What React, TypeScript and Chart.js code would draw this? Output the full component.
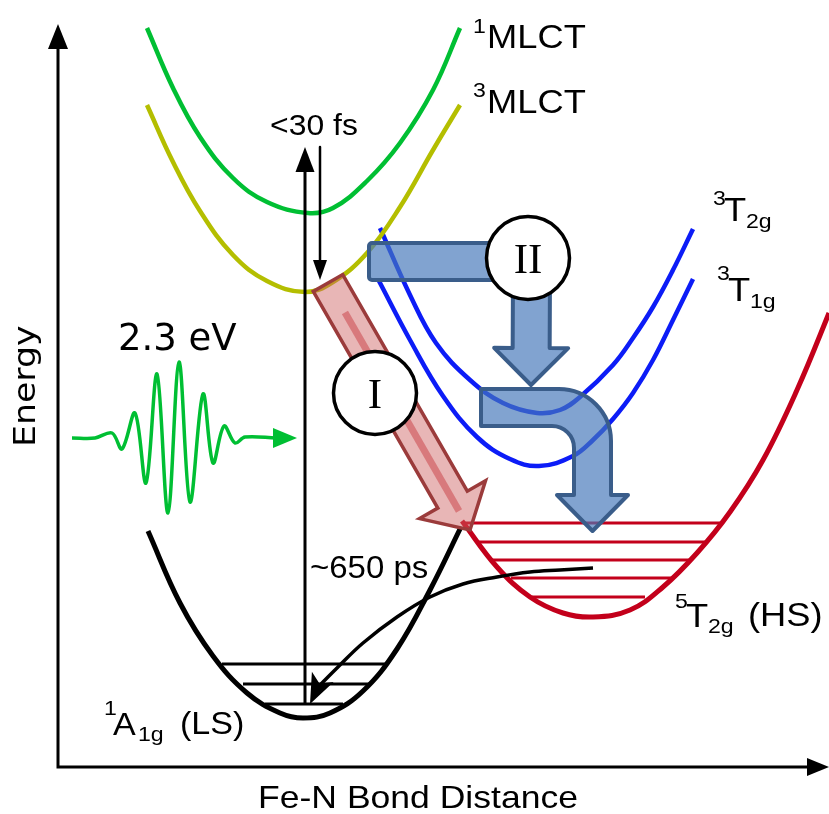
import { useEffect, useRef } from "react";
import { Chart, registerables } from "chart.js";

Chart.register(...registerables);

type Pt = { x: number; y: number };

// x: Fe–N bond distance, y: energy (arbitrary units)
const curve1MLCT: Pt[] = [
  { x: 89, y: 739 }, { x: 115, y: 679 }, { x: 142, y: 630 }, { x: 175, y: 589 },
  { x: 209, y: 565 }, { x: 250, y: 554 }, { x: 275, y: 559 }, { x: 309, y: 586 },
  { x: 342, y: 624 }, { x: 375, y: 677 }, { x: 402, y: 739 },
];
const curve3MLCT: Pt[] = [
  { x: 89, y: 662 }, { x: 115, y: 605 }, { x: 142, y: 556 }, { x: 175, y: 512 },
  { x: 209, y: 486 }, { x: 247, y: 475 }, { x: 275, y: 485 }, { x: 309, y: 514 },
  { x: 342, y: 560 }, { x: 375, y: 617 }, { x: 402, y: 662 },
];
const curve3T2g: Pt[] = [
  { x: 322, y: 539 }, { x: 352, y: 472 }, { x: 378, y: 424 }, { x: 412, y: 387 },
  { x: 445, y: 364 }, { x: 479, y: 354 }, { x: 502, y: 357 }, { x: 522, y: 370 },
  { x: 555, y: 402 }, { x: 575, y: 429 }, { x: 595, y: 460 }, { x: 615, y: 497 },
  { x: 635, y: 538 },
];
const curve3T1g: Pt[] = [
  { x: 321, y: 486 }, { x: 352, y: 427 }, { x: 385, y: 371 }, { x: 419, y: 330 },
  { x: 452, y: 308 }, { x: 481, y: 301 }, { x: 515, y: 311 },
  { x: 535, y: 327 }, { x: 555, y: 348 }, { x: 575, y: 374 }, { x: 595, y: 407 },
  { x: 615, y: 447 }, { x: 635, y: 488 },
];
const curve5T2g: Pt[] = [
  { x: 404, y: 246 }, { x: 439, y: 200 }, { x: 472, y: 170 }, { x: 505, y: 154 },
  { x: 535, y: 150 }, { x: 572, y: 157 }, { x: 605, y: 180 }, { x: 639, y: 214 },
  { x: 672, y: 255 }, { x: 705, y: 307 }, { x: 739, y: 377 }, { x: 771, y: 454 },
  { x: 787, y: 495 },
];
const curve1A1g: Pt[] = [
  { x: 90, y: 236 }, { x: 122, y: 164 }, { x: 155, y: 111 }, { x: 189, y: 74 },
  { x: 222, y: 54 }, { x: 245, y: 49 }, { x: 272, y: 54 }, { x: 305, y: 76 },
  { x: 339, y: 118 }, { x: 372, y: 177 }, { x: 403, y: 240 },
];
const levels1A1g = [
  { y: 103, x0: 164, x1: 327 },
  { y: 83, x0: 185, x1: 312 },
  { y: 63, x0: 207, x1: 285 },
];
const levels5T2g = [
  { y: 244, x0: 405, x1: 662 },
  { y: 225, x0: 418, x1: 650 },
  { y: 207, x0: 434, x1: 633 },
  { y: 189, x0: 453, x1: 614 },
  { y: 170, x0: 474, x1: 587 },
];
const pulse: Pt[] = [
  { x: 14, y: 329 }, { x: 37, y: 329 }, { x: 54, y: 334 }, { x: 64, y: 318 },
  { x: 77, y: 354 }, { x: 88, y: 284 }, { x: 99, y: 393 }, { x: 110, y: 254 },
  { x: 121, y: 405 }, { x: 132, y: 265 }, { x: 145, y: 373 }, { x: 155, y: 304 },
  { x: 166, y: 341 }, { x: 177, y: 324 }, { x: 187, y: 330 }, { x: 218, y: 329 },
];
const excitation: Pt[] = [{ x: 247, y: 63 }, { x: 247, y: 600 }];
const fastRelax: Pt[] = [{ x: 262, y: 620 }, { x: 262, y: 505 }];
const hsDecay: Pt[] = [
  { x: 262, y: 82 }, { x: 279, y: 99 }, { x: 305, y: 124 }, { x: 339, y: 150 },
  { x: 372, y: 170 }, { x: 405, y: 183 }, { x: 439, y: 190 }, { x: 472, y: 195 },
  { x: 502, y: 197 }, { x: 535, y: 199 },
];
const arrowTips = [
  { tip: { x: 0, y: 743 }, from: { x: 0, y: 0 }, kind: "axisY" },
  { tip: { x: 771, y: 0 }, from: { x: 0, y: 0 }, kind: "axisX" },
  { tip: { x: 247, y: 620 }, from: { x: 247, y: 63 }, kind: "excite" },
  { tip: { x: 262, y: 487 }, from: { x: 262, y: 620 }, kind: "relax" },
  { tip: { x: 252, y: 63 }, from: { x: 264, y: 88.5 }, kind: "decay" },
  { tip: { x: 239, y: 329 }, from: { x: 218, y: 329 }, kind: "pulse" },
];
const pathI = { from: { x: 270, y: 484 }, tip: { x: 412, y: 237 } };
const pathIIBar = { from: { x: 311, y: 505.5 }, to: { x: 447, y: 505.5 } };
const pathIIDown = { from: { x: 473.5, y: 495 }, tip: { x: 473, y: 382 } };
const pathIIBent = { from: { x: 423, y: 359.5 }, corner: { x: 534.5, y: 359.5 }, tip: { x: 534.5, y: 236 } };
const circleLabels = [
  { text: "I", x: 317, y: 374 },
  { text: "II", x: 470, y: 509 },
];
const stateLabels = [
  { text: "1", x: 415, y: 734, role: "sup" }, { text: "MLCT", x: 429, y: 719, role: "main" },
  { text: "3", x: 415, y: 670, role: "sup" }, { text: "MLCT", x: 429, y: 654, role: "main" },
  { text: "3", x: 655, y: 562, role: "sup" }, { text: "T", x: 666, y: 546, role: "main" }, { text: "2g", x: 688, y: 539, role: "sub" },
  { text: "3", x: 659, y: 487, role: "sup" }, { text: "T", x: 670, y: 466, role: "main" }, { text: "1g", x: 692, y: 459, role: "sub" },
  { text: "5", x: 617, y: 159, role: "sup" }, { text: "T", x: 628, y: 140, role: "main" }, { text: "2g", x: 650, y: 134, role: "sub" }, { text: "(HS)", x: 690, y: 141, role: "main" },
  { text: "1", x: 46, y: 52, role: "sup" }, { text: "A", x: 55, y: 32, role: "mainS" }, { text: "1g", x: 80, y: 26, role: "sub" }, { text: "(LS)", x: 122, y: 33, role: "mainS" },
  { text: "<30 fs", x: 256, y: 632, role: "fast" },
  { text: "~650 ps", x: 252, y: 189, role: "slow" },
  { text: "2.3 eV", x: 60, y: 417, role: "ev" },
  { text: "Fe-N Bond Distance", x: 360, y: -41, role: "xTitle" },
  { text: "Energy", x: -23, y: 320, role: "yTitle" },
];

// ---- styles ----
const SANS = '"Liberation Sans", Arial, sans-serif';
const DEJAVU = '"DejaVu Sans", sans-serif';
const SERIF = '"Liberation Serif", "Times New Roman", serif';
const GREEN = "#00bf33";
const OLIVE = "#b4be00";
const BLUE = "#0c1cf7";
const RED = "#c3001b";
const textStyles: Record<string, { font: string; sx: number; align: CanvasTextAlign; rot: number }> = {
  main: { font: `33px ${SANS}`, sx: 1.1, align: "left", rot: 0 },
  mainS: { font: `31px ${SANS}`, sx: 1.1, align: "left", rot: 0 },
  sup: { font: `21px ${SANS}`, sx: 1.1, align: "left", rot: 0 },
  sub: { font: `21px ${SANS}`, sx: 1.1, align: "left", rot: 0 },
  fast: { font: `29px ${SANS}`, sx: 1.1, align: "center", rot: 0 },
  slow: { font: `32px ${SANS}`, sx: 1.03, align: "left", rot: 0 },
  ev: { font: `37px ${DEJAVU}`, sx: 1.0, align: "left", rot: 0 },
  xTitle: { font: `32px ${SANS}`, sx: 1.11, align: "center", rot: 0 },
  yTitle: { font: `31px ${DEJAVU}`, sx: 1.12, align: "left", rot: -Math.PI / 2 },
};
const headStyles: Record<string, { len: number; hw: number; notch: number; color: string }> = {
  axisY: { len: 25, hw: 10, notch: 0, color: "#000" },
  axisX: { len: 22, hw: 9, notch: 0, color: "#000" },
  excite: { len: 25, hw: 9.5, notch: 0, color: "#000" },
  relax: { len: 20, hw: 7, notch: 0, color: "#000" },
  decay: { len: 30, hw: 12, notch: 0.25, color: "#000" },
  pulse: { len: 24, hw: 10, notch: 0, color: GREEN },
};

function lineDs(data: Pt[], color: string, width: number, order: number, tension = 0.4) {
  return {
    data,
    showLine: true,
    borderColor: color,
    backgroundColor: color,
    borderWidth: width,
    pointRadius: 0,
    pointHoverRadius: 0,
    fill: false,
    order,
    cubicInterpolationMode: "default",
    tension,
    borderCapStyle: "butt",
    borderJoinStyle: "round",
  };
}

function blockArrow(ctx: CanvasRenderingContext2D, sx: number, sy: number, tx: number, ty: number, shw: number, hhw: number, hl: number) {
  const dx = tx - sx, dy = ty - sy;
  const L = Math.hypot(dx, dy);
  const ux = dx / L, uy = dy / L;
  const nx = -uy, ny = ux;
  const bx = tx - ux * hl, by = ty - uy * hl;
  ctx.beginPath();
  ctx.moveTo(sx + nx * shw, sy + ny * shw);
  ctx.lineTo(bx + nx * shw, by + ny * shw);
  ctx.lineTo(bx + nx * hhw, by + ny * hhw);
  ctx.lineTo(tx, ty);
  ctx.lineTo(bx - nx * hhw, by - ny * hhw);
  ctx.lineTo(bx - nx * shw, by - ny * shw);
  ctx.lineTo(sx - nx * shw, sy - ny * shw);
  ctx.closePath();
}

const diagramPlugin = {
  id: "diagram",
  beforeDraw(chart: any) {
    const ctx = chart.ctx as CanvasRenderingContext2D;
    ctx.save();
    ctx.fillStyle = "#fff";
    ctx.fillRect(0, 0, chart.width, chart.height);
    ctx.restore();
  },
  beforeDatasetsDraw(chart: any) {
    const ctx = chart.ctx as CanvasRenderingContext2D;
    const X = (v: number) => chart.scales.x.getPixelForValue(v);
    const Y = (v: number) => chart.scales.y.getPixelForValue(v);
    ctx.save();
    ctx.strokeStyle = "#000";
    ctx.lineWidth = 3;
    ctx.beginPath();
    ctx.moveTo(X(0), Y(0) + 1.5);
    ctx.lineTo(X(0), Y(743) + 20);
    ctx.moveTo(X(0) - 1.5, Y(0));
    ctx.lineTo(X(771) - 18, Y(0));
    ctx.stroke();
    ctx.restore();
  },
  afterDatasetsDraw(chart: any) {
    const ctx = chart.ctx as CanvasRenderingContext2D;
    const X = (v: number) => chart.scales.x.getPixelForValue(v);
    const Y = (v: number) => chart.scales.y.getPixelForValue(v);
    ctx.save();

    // small arrowheads
    for (const a of arrowTips) {
      const st = headStyles[a.kind];
      const tx = X(a.tip.x), ty = Y(a.tip.y);
      const fx = X(a.from.x), fy = Y(a.from.y);
      const L = Math.hypot(tx - fx, ty - fy);
      const ux = (tx - fx) / L, uy = (ty - fy) / L;
      const nx = -uy, ny = ux;
      const bx = tx - ux * st.len, by = ty - uy * st.len;
      ctx.beginPath();
      ctx.moveTo(tx, ty);
      ctx.lineTo(bx + nx * st.hw, by + ny * st.hw);
      ctx.lineTo(bx + ux * st.len * st.notch, by + uy * st.len * st.notch);
      ctx.lineTo(bx - nx * st.hw, by - ny * st.hw);
      ctx.closePath();
      ctx.fillStyle = st.color;
      ctx.fill();
    }

    // pathway I (red arrow)
    {
      const sx = X(pathI.from.x), sy = Y(pathI.from.y);
      const tx = X(pathI.tip.x), ty = Y(pathI.tip.y);
      blockArrow(ctx, sx, sy, tx, ty, 17, 38, 35);
      ctx.fillStyle = "rgba(205,95,95,0.46)";
      ctx.fill();
      ctx.lineJoin = "miter";
      ctx.lineWidth = 3.5;
      ctx.strokeStyle = "#9b3b3b";
      ctx.stroke();
      const L = Math.hypot(tx - sx, ty - sy);
      const ux = (tx - sx) / L, uy = (ty - sy) / L;
      ctx.beginPath();
      ctx.moveTo(sx + ux * 34, sy + uy * 34);
      ctx.lineTo(sx + ux * (L - 22), sy + uy * (L - 22));
      ctx.lineWidth = 7;
      ctx.strokeStyle = "rgba(205,80,85,0.6)";
      ctx.stroke();
    }

    // pathway II (blue arrows)
    const blueFill = "rgba(70,120,185,0.68)";
    const blueLine = "#3a5d8a";
    ctx.lineJoin = "round";
    ctx.lineWidth = 4;
    {
      const x0 = X(pathIIBar.from.x), x1 = X(pathIIBar.to.x), cy = Y(pathIIBar.from.y);
      ctx.beginPath();
      (ctx as any).roundRect(x0, cy - 18.5, x1 - x0, 37, 3);
      ctx.fillStyle = blueFill;
      ctx.fill();
      ctx.strokeStyle = blueLine;
      ctx.stroke();
    }
    {
      blockArrow(ctx, X(pathIIDown.from.x), Y(pathIIDown.from.y), X(pathIIDown.tip.x), Y(pathIIDown.tip.y), 18.5, 37, 37);
      ctx.fillStyle = blueFill;
      ctx.fill();
      ctx.strokeStyle = blueLine;
      ctx.stroke();
    }
    {
      const fx = X(pathIIBent.from.x), cx = X(pathIIBent.corner.x), cy = Y(pathIIBent.corner.y);
      const ty = Y(pathIIBent.tip.y);
      const hw = 18.5, hl = 36, hhw = 35.5;
      const baseY = ty - hl;
      ctx.beginPath();
      ctx.moveTo(fx, cy - hw);
      ctx.arcTo(cx + hw, cy - hw, cx + hw, baseY, 52);
      ctx.lineTo(cx + hw, baseY);
      ctx.lineTo(cx + hhw, baseY);
      ctx.lineTo(cx, ty);
      ctx.lineTo(cx - hhw, baseY);
      ctx.lineTo(cx - hw, baseY);
      ctx.arcTo(cx - hw, cy + hw, fx, cy + hw, 22);
      ctx.lineTo(fx, cy + hw);
      ctx.closePath();
      ctx.fillStyle = blueFill;
      ctx.fill();
      ctx.strokeStyle = blueLine;
      ctx.stroke();
    }

    // circles with roman numerals
    for (const c of circleLabels) {
      const cx = X(c.x), cy = Y(c.y);
      ctx.beginPath();
      ctx.arc(cx, cy, 41.5, 0, Math.PI * 2);
      ctx.fillStyle = "#fff";
      ctx.fill();
      ctx.lineWidth = 3.5;
      ctx.strokeStyle = "#000";
      ctx.stroke();
      ctx.fillStyle = "#000";
      ctx.font = `43px ${SERIF}`;
      ctx.textAlign = "center";
      ctx.textBaseline = "alphabetic";
      ctx.fillText(c.text, cx, cy + 14.5);
    }

    // texts
    for (const t of stateLabels) {
      const st = textStyles[t.role];
      ctx.save();
      ctx.translate(X(t.x), Y(t.y));
      if (st.rot) ctx.rotate(st.rot);
      ctx.scale(st.sx, 1);
      ctx.font = st.font;
      ctx.textAlign = st.align;
      ctx.textBaseline = "alphabetic";
      ctx.fillStyle = "#000";
      ctx.fillText(t.text, 0, 0);
      ctx.restore();
    }
    ctx.restore();
  },
};

export default function App() {
  const ref = useRef<HTMLCanvasElement>(null);
  useEffect(() => {
    const canvas = ref.current;
    if (!canvas) return;
    const datasets: any[] = [
      lineDs(curve1MLCT, GREEN, 4.5, 20),
      lineDs(curve3MLCT, OLIVE, 4.5, 20),
      lineDs(curve3T2g, BLUE, 4.5, 20),
      lineDs(curve3T1g, BLUE, 4.5, 20),
      lineDs(curve5T2g, RED, 5, 20),
      lineDs(curve1A1g, "#000", 5, 20),
      lineDs(pulse, GREEN, 3.5, 15, 0.35),
    ];
    for (const l of levels5T2g) {
      datasets.push(lineDs([{ x: l.x0, y: l.y }, { x: l.x1, y: l.y }], RED, 3, 12, 0));
    }
    for (const l of levels1A1g) {
      datasets.push(lineDs([{ x: l.x0, y: l.y }, { x: l.x1, y: l.y }], "#000", 3, 12, 0));
    }
    datasets.push(lineDs(excitation, "#000", 3, 10, 0));
    datasets.push(lineDs(fastRelax, "#000", 2.5, 10, 0));
    datasets.push(lineDs(hsDecay, "#000", 3.5, 5, 0.4));

    const chart = new Chart(canvas, {
      type: "scatter",
      data: { datasets },
      options: {
        animation: false,
        responsive: false,
        maintainAspectRatio: false,
        events: [],
        layout: { padding: 0 },
        plugins: { legend: { display: false }, tooltip: { enabled: false }, title: { display: false } },
        scales: {
          x: { type: "linear", min: -58, max: 771, display: false },
          y: { type: "linear", min: -47, max: 767, display: false },
        },
      } as any,
      plugins: [diagramPlugin as any],
    });
    let alive = true;
    (document as any).fonts?.ready?.then(() => {
      if (alive) chart.draw();
    });
    return () => {
      alive = false;
      chart.destroy();
    };
  }, []);
  return (
    <div style={{ position: "fixed", left: 0, top: 0, width: 829, height: 814, background: "#fff" }}>
      <canvas ref={ref} width={829} height={814} style={{ display: "block", width: 829, height: 814 }} />
    </div>
  );
}
